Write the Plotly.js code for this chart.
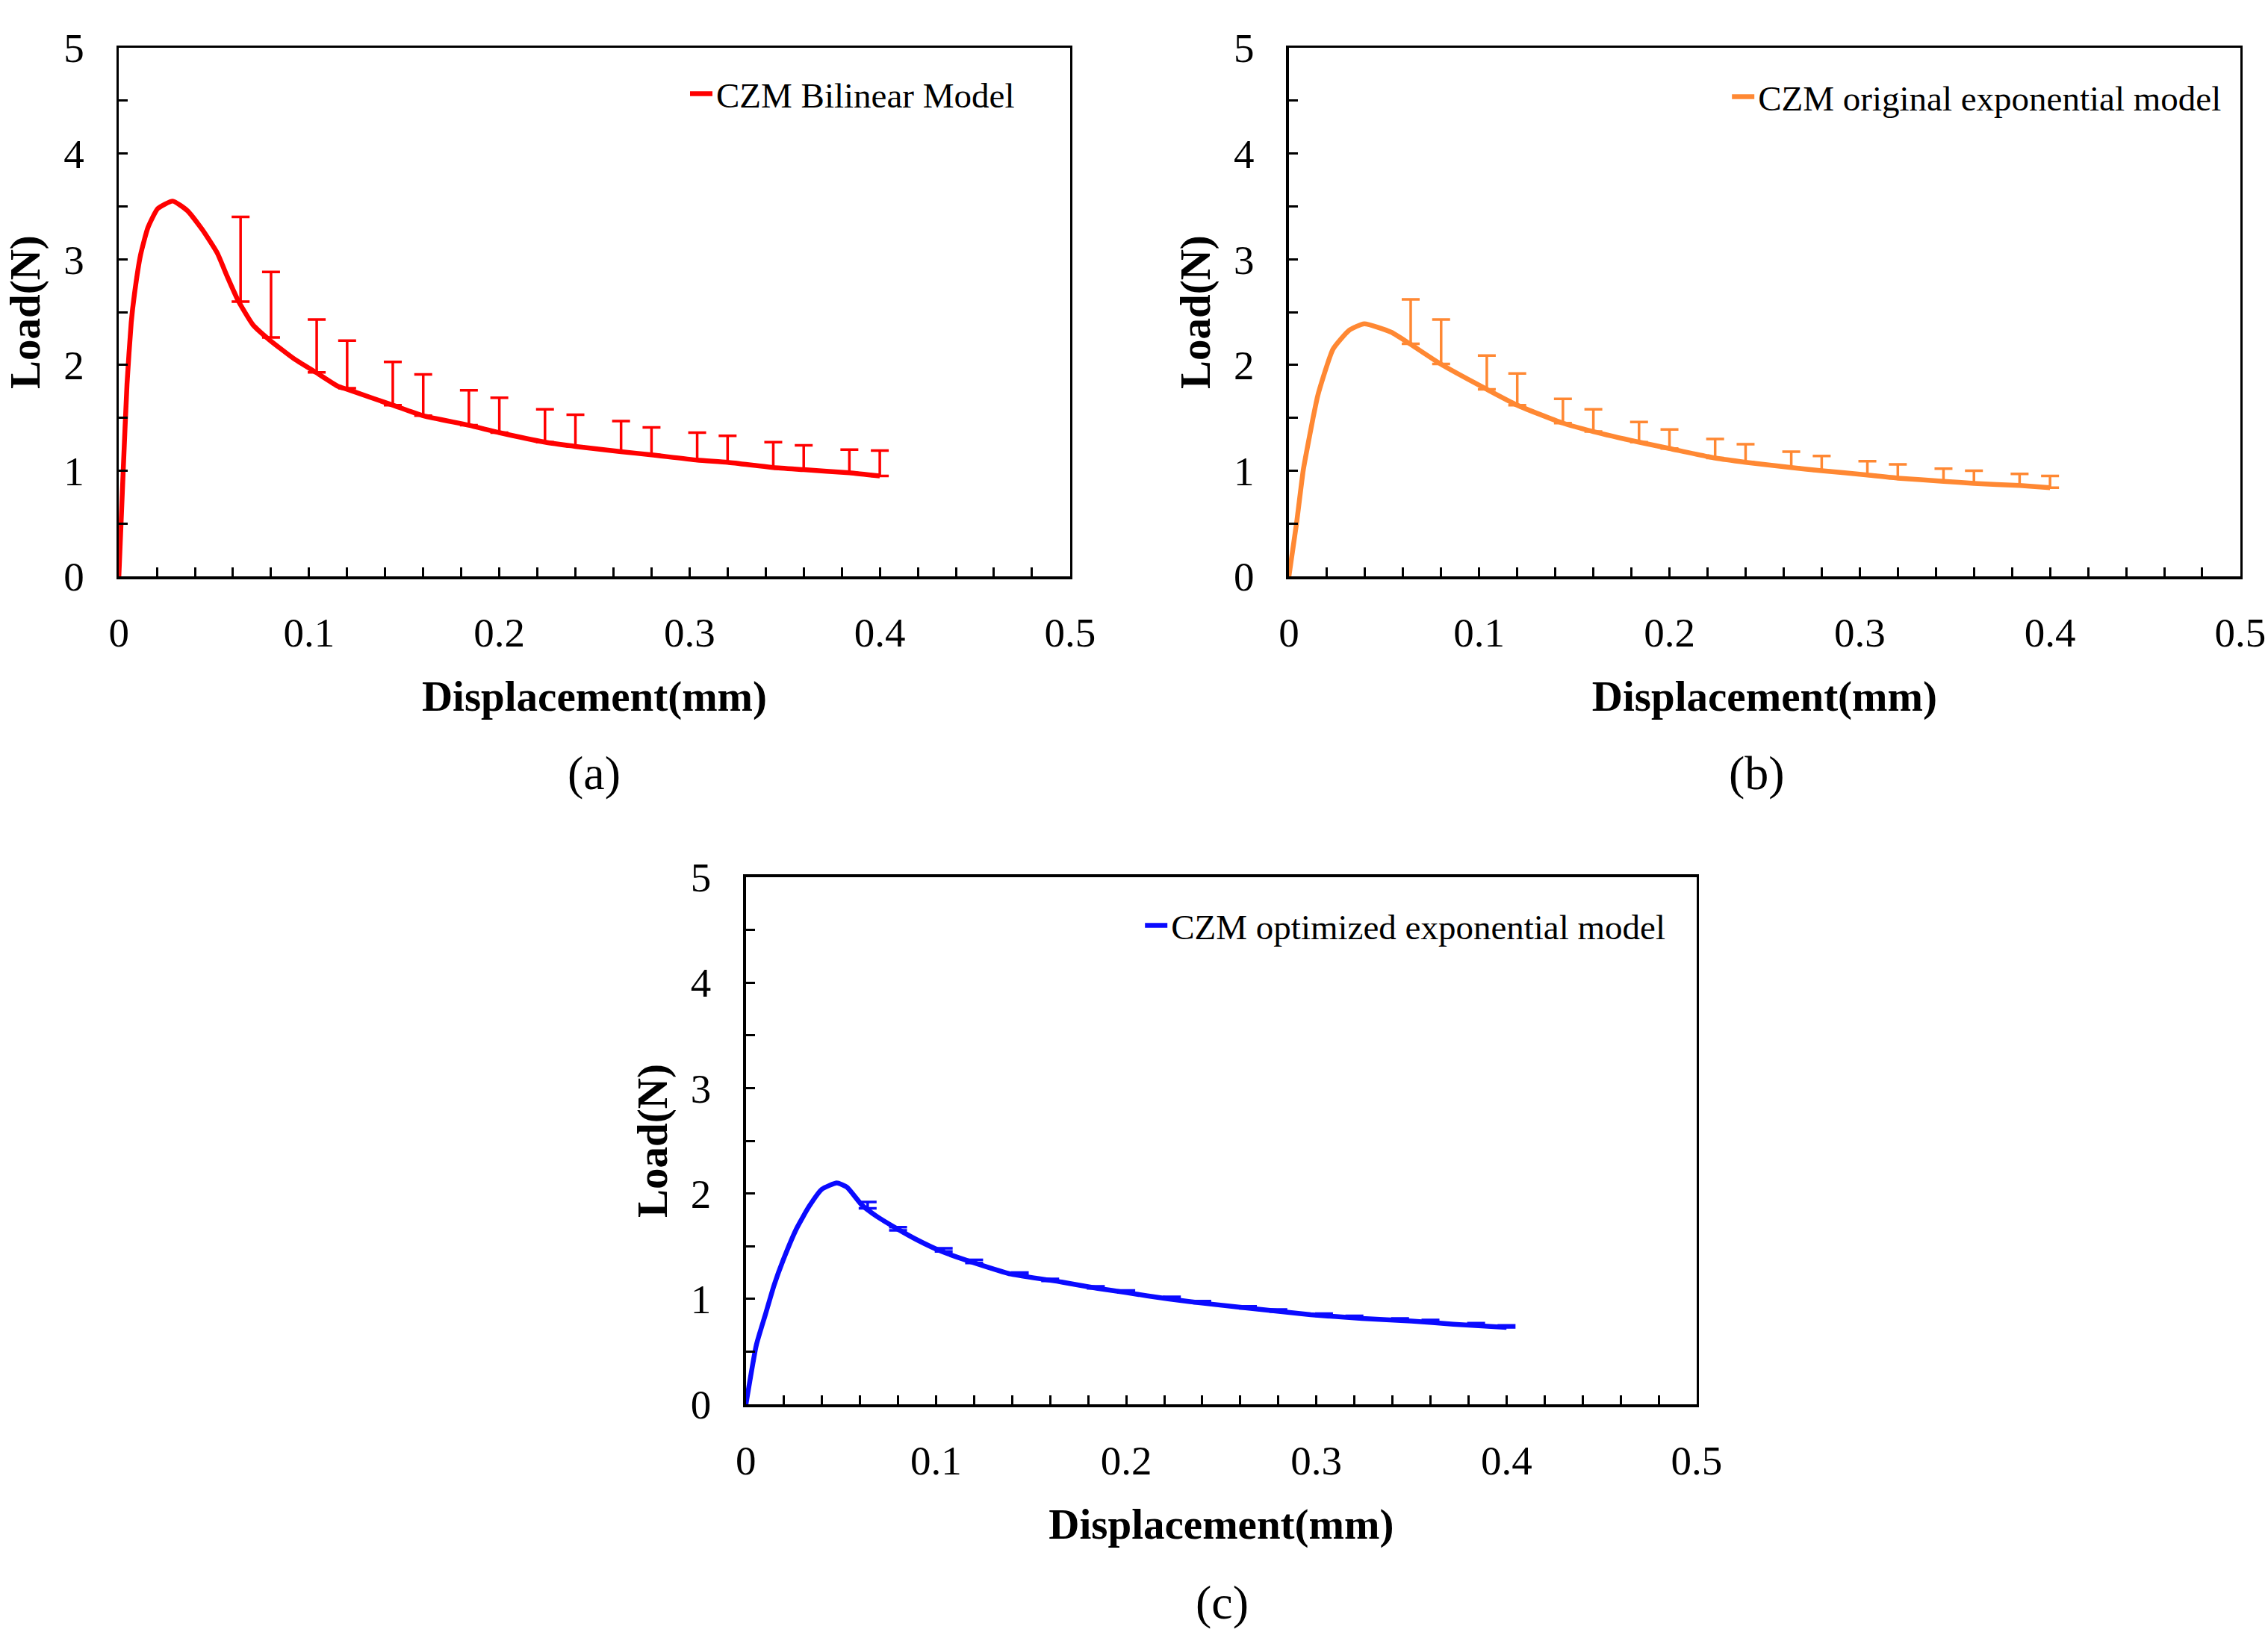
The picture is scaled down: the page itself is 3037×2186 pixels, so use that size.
<!DOCTYPE html>
<html>
<head>
<meta charset="utf-8">
<script src="https://cdn.plot.ly/plotly-3.0.1.min.js"></script>
<style>
  html, body { margin: 0; padding: 0; background: #fff; }
  #graph { width: 3037px; height: 2186px; }
</style>
</head>
<body>
<div id="graph"></div>
<script>
// ---- data ----

// (a) CZM bilinear model curve
var dispA = [0, 0.0023, 0.0043, 0.0065, 0.0082, 0.0114, 0.0153, 0.0205, 0.0283, 0.036, 0.0439,
  0.0517, 0.0569, 0.0627, 0.0705, 0.079, 0.092, 0.1036, 0.115, 0.12, 0.144, 0.16, 0.184, 0.2,
  0.224, 0.24, 0.264, 0.28, 0.304, 0.32, 0.344, 0.36, 0.384, 0.4];
var loadA = [0, 1.0, 1.82, 2.40, 2.67, 3.04, 3.30, 3.48, 3.55, 3.46, 3.28,
  3.06, 2.84, 2.61, 2.38, 2.24, 2.06, 1.93, 1.80, 1.77, 1.62, 1.52, 1.43, 1.36,
  1.27, 1.23, 1.18, 1.15, 1.10, 1.08, 1.03, 1.01, 0.98, 0.95];

// (b) CZM original exponential model curve
var dispB = [0, 0.004, 0.0075, 0.0094, 0.0127, 0.0153, 0.0232, 0.0318, 0.0396, 0.0538, 0.0636,
  0.0797, 0.104, 0.12, 0.144, 0.16, 0.184, 0.2, 0.224, 0.24, 0.264, 0.28, 0.304, 0.32,
  0.344, 0.36, 0.384, 0.4];
var loadB = [0, 0.5, 1.0, 1.19, 1.5, 1.72, 2.15, 2.33, 2.39, 2.31, 2.20,
  2.01, 1.77, 1.62, 1.45, 1.37, 1.27, 1.21, 1.12, 1.08, 1.03, 1.00, 0.96, 0.93,
  0.90, 0.88, 0.86, 0.84];

// (c) CZM optimized exponential model curve
var dispC = [0, 0.0055, 0.0102, 0.0148, 0.0194, 0.0267, 0.0333, 0.0399, 0.0478, 0.0531, 0.061,
  0.069, 0.08, 0.09, 0.103, 0.1205, 0.1396, 0.166, 0.185, 0.2, 0.222, 0.245, 0.271, 0.297,
  0.324, 0.35, 0.372, 0.4];
var loadC = [0, 0.565, 0.85, 1.13, 1.36, 1.67, 1.88, 2.04, 2.10, 2.06, 1.89,
  1.78, 1.66, 1.56, 1.45, 1.34, 1.235, 1.16, 1.10, 1.06, 1.00, 0.95, 0.90, 0.85,
  0.815, 0.79, 0.76, 0.73];

// experimental points where the error bars sit
var expDisp = [0.064, 0.08, 0.104, 0.12, 0.144, 0.16, 0.184, 0.2, 0.224, 0.24, 0.264, 0.28,
  0.304, 0.32, 0.344, 0.36, 0.384, 0.4];

// bar bottom (on the curve) and bar top for each panel
var baseA = [2.60, 2.26, 1.93, 1.78, 1.62, 1.52, 1.43, 1.36, 1.27, 1.23, 1.18, 1.15, 1.10, 1.08, 1.03, 1.01, 0.98, 0.95];
var topA  = [3.40, 2.88, 2.43, 2.23, 2.03, 1.91, 1.76, 1.69, 1.58, 1.53, 1.47, 1.41, 1.36, 1.33, 1.27, 1.24, 1.20, 1.19];
var baseB = [2.20, 2.01, 1.77, 1.62, 1.45, 1.37, 1.27, 1.21, 1.12, 1.08, 1.03, 1.00, 0.96, 0.93, 0.90, 0.88, 0.86, 0.84];
var topB  = [2.62, 2.43, 2.09, 1.92, 1.68, 1.58, 1.46, 1.39, 1.30, 1.25, 1.18, 1.14, 1.09, 1.06, 1.02, 1.00, 0.97, 0.95];
var baseC = [1.86, 1.65, 1.45, 1.34, 1.23, 1.17, 1.10, 1.06, 1.00, 0.96, 0.91, 0.88, 0.84, 0.82, 0.795, 0.78, 0.75, 0.73];
var topC  = [1.92, 1.68, 1.48, 1.37, 1.25, 1.19, 1.12, 1.08, 1.02, 0.98, 0.93, 0.90, 0.86, 0.84, 0.815, 0.80, 0.77, 0.75];

var names = ['CZM Bilinear Model', 'CZM original exponential model', 'CZM optimized exponential model'];
var colors = ['#ff0000', '#ff8833', '#0a0aff'];

var FONT = 'Liberation Serif, Times New Roman, serif';

// ---- traces ----
function curveTrace(x, y, i){
    return {
        x: x,
        y: y,
        name: names[i],
        mode: 'lines',
        type: 'scatter',
        line: {color: colors[i], width: 6.5, shape: 'spline', smoothing: 0.5},
        xaxis: i === 0 ? 'x' : 'x' + (i + 1),
        yaxis: i === 0 ? 'y' : 'y' + (i + 1),
        legend: i === 0 ? 'legend' : 'legend' + (i + 1),
        hoverinfo: 'skip'
    };
}

function errorTrace(base, top, i){
    //upper error only, lower end stays on the curve
    var plus = [];
    var minus = [];
    for (let j = 0; j < base.length; j++){
        plus.push(top[j] - base[j]);
        minus.push(0);
    }
    return {
        x: expDisp,
        y: base,
        mode: 'markers',
        type: 'scatter',
        marker: {size: 2, color: colors[i], opacity: 0},
        error_y: {
            type: 'data',
            symmetric: false,
            array: plus,
            arrayminus: minus,
            color: colors[i],
            thickness: 3.5,
            width: 12
        },
        xaxis: i === 0 ? 'x' : 'x' + (i + 1),
        yaxis: i === 0 ? 'y' : 'y' + (i + 1),
        showlegend: false,
        hoverinfo: 'skip'
    };
}

var data = [
    curveTrace(dispA, loadA, 0), errorTrace(baseA, topA, 0),
    curveTrace(dispB, loadB, 1), errorTrace(baseB, topB, 1),
    curveTrace(dispC, loadC, 2), errorTrace(baseC, topC, 2)
];

// ---- axes ----
function xAxis(domain, anchor){
    return {
        domain: domain,
        anchor: anchor,
        range: [0, 0.5],
        tick0: 0,
        dtick: 0.1,
        ticks: 'inside',
        ticklen: 12,
        tickwidth: 3,
        tickcolor: '#000',
        minor: {dtick: 0.02, ticks: 'inside', ticklen: 12, tickwidth: 3, tickcolor: '#000', showgrid: false},
        showline: true,
        linewidth: 3.5,
        linecolor: '#000',
        mirror: true,
        showgrid: false,
        zeroline: false,
        ticklabelstandoff: 24,
        tickfont: {family: FONT, size: 55, color: '#000'},
        title: {
            text: 'Displacement(mm)',
            font: {family: FONT, size: 57, color: '#000', weight: 'bold'},
            standoff: 36
        }
    };
}

function yAxis(domain, anchor){
    return {
        domain: domain,
        anchor: anchor,
        range: [0, 5],
        tick0: 0,
        dtick: 1,
        ticks: 'inside',
        ticklen: 12,
        tickwidth: 3,
        tickcolor: '#000',
        minor: {dtick: 0.5, ticks: 'inside', ticklen: 12, tickwidth: 3, tickcolor: '#000', showgrid: false},
        showline: true,
        linewidth: 3.5,
        linecolor: '#000',
        mirror: true,
        showgrid: false,
        zeroline: false,
        ticklabelstandoff: 32,
        tickfont: {family: FONT, size: 55, color: '#000'},
        title: {
            text: 'Load(N)',
            font: {family: FONT, size: 57, color: '#000', weight: 'bold'},
            standoff: 14
        }
    };
}

function legendAt(x, y){
    return {
        x: x,
        y: y,
        xanchor: 'left',
        yanchor: 'middle',
        bgcolor: 'rgba(0,0,0,0)',
        borderwidth: 0,
        font: {family: FONT, size: 47, color: '#000'}
    };
}

function panelLabel(text, x, y){
    return {
        text: text,
        x: x,
        y: y,
        xref: 'paper',
        yref: 'paper',
        xanchor: 'center',
        yanchor: 'middle',
        showarrow: false,
        font: {family: FONT, size: 64, color: '#000'}
    };
}

var layout = {
    width: 3037,
    height: 2186,
    margin: {l: 0, r: 0, t: 0, b: 0},
    paper_bgcolor: '#fff',
    plot_bgcolor: '#fff',
    showlegend: true,
    xaxis: xAxis([0.0524, 0.4718], 'y'),
    yaxis: yAxis([0.6468, 0.9707], 'x'),
    xaxis2: xAxis([0.5683, 0.9878], 'y2'),
    yaxis2: yAxis([0.6468, 0.9707], 'x2'),
    xaxis3: xAxis([0.3289, 0.7481], 'y3'),
    yaxis3: yAxis([0.1395, 0.4625], 'x3'),
    legend: legendAt(0.3026, 0.9424),
    legend2: legendAt(0.7620, 0.9405),
    legend3: legendAt(0.5032, 0.4328),
    annotations: [
        panelLabel('(a)', 0.2621, 0.5265),
        panelLabel('(b)', 0.7747, 0.5265),
        panelLabel('(c)', 0.5390, 0.0180)
    ]
};

Plotly.newPlot('graph', data, layout, {staticPlot: true});
</script>
</body>
</html>
